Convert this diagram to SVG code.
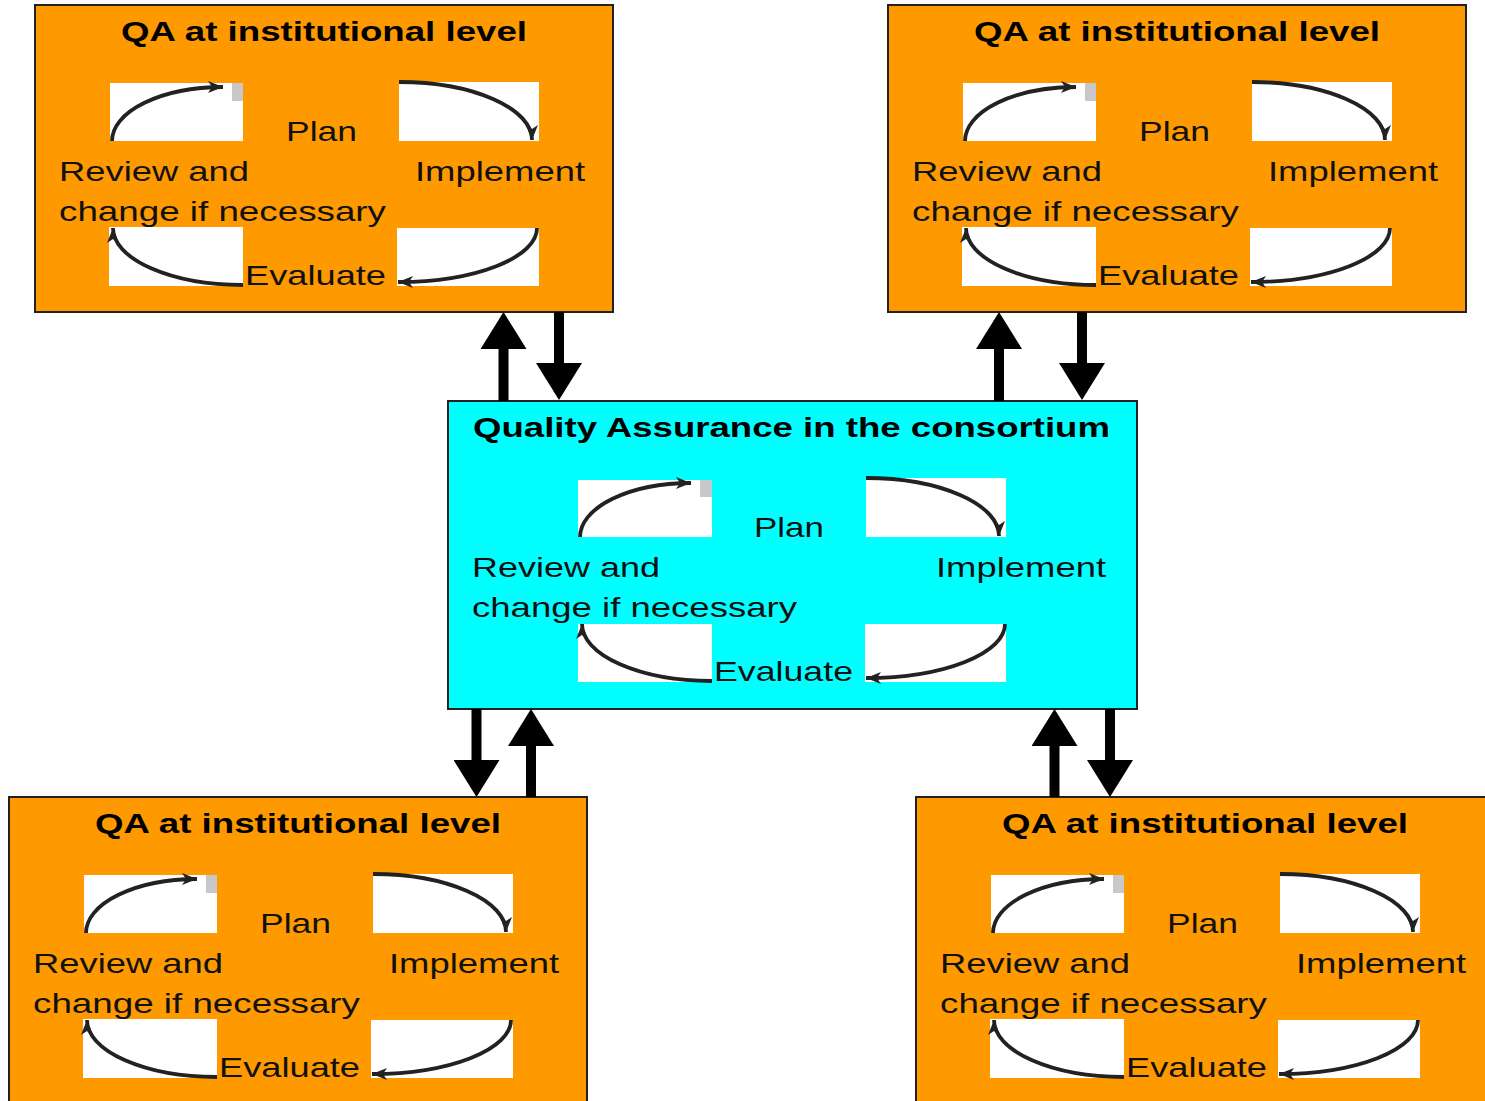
<svg xmlns="http://www.w3.org/2000/svg" width="1485" height="1101" viewBox="0 0 1485 1101">
<style>
.obox{fill:#FF9900;stroke:#222;stroke-width:2}
.cbox{fill:#00FFFF;stroke:#222;stroke-width:2}
.pic{fill:#FFFFFF}
.tab{fill:#C8C8CC}
.cyc{fill:none;stroke:#222;stroke-width:3.8;marker-end:url(#tiny)}
.title{font-family:"Liberation Sans",Arial,sans-serif;font-weight:bold;font-size:27px;fill:#000}
.lbl{font-family:"Liberation Sans",Arial,sans-serif;font-size:28px;fill:#111}
.big{stroke:#000;stroke-width:10;fill:none;marker-end:url(#head)}
</style>
<defs>
<marker id="tiny" markerUnits="userSpaceOnUse" markerWidth="16" markerHeight="14" viewBox="0 0 16 14" refX="15" refY="7" orient="auto">
<path d="M0,1 L15,7 L0,13 L4,7 Z" fill="#222"/>
</marker>
<marker id="head" markerUnits="userSpaceOnUse" markerWidth="37" markerHeight="46" viewBox="0 0 37 46" refX="0" refY="23" orient="auto">
<path d="M0,0 L37,23 L0,46 Z" fill="#000"/>
</marker>
</defs>

<g id="qa-top-left" transform="translate(35,5)">
<rect class="obox" x="0" y="0" width="578" height="307"/>
<text class="title" x="86" y="36" textLength="406" lengthAdjust="spacingAndGlyphs">QA at institutional level</text>
<rect class="pic" x="75" y="78" width="133" height="58"/>
<rect class="tab" x="197" y="78" width="11" height="18"/>
<rect class="pic" x="364" y="77" width="140" height="59"/>
<rect class="pic" x="74" y="222" width="134" height="59"/>
<rect class="pic" x="362" y="223" width="142" height="58"/>
<path class="cyc" d="M77,136 A111,54 0 0 1 188,82"/>
<path class="cyc" d="M364,77 A133,58 0 0 1 497,135"/>
<path class="cyc" d="M502,223 A139,54 0 0 1 363,277"/>
<path class="cyc" d="M208,280 A130,57 0 0 1 78,223"/>
<text class="lbl" x="251" y="136" textLength="71" lengthAdjust="spacingAndGlyphs">Plan</text>
<text class="lbl" x="24" y="176" textLength="190" lengthAdjust="spacingAndGlyphs">Review and</text>
<text class="lbl" x="380" y="176" textLength="170" lengthAdjust="spacingAndGlyphs">Implement</text>
<text class="lbl" x="24" y="216" textLength="327" lengthAdjust="spacingAndGlyphs">change if necessary</text>
<text class="lbl" x="210" y="280" textLength="141" lengthAdjust="spacingAndGlyphs">Evaluate</text>
</g>

<g id="qa-top-right" transform="translate(888,5)">
<rect class="obox" x="0" y="0" width="578" height="307"/>
<text class="title" x="86" y="36" textLength="406" lengthAdjust="spacingAndGlyphs">QA at institutional level</text>
<rect class="pic" x="75" y="78" width="133" height="58"/>
<rect class="tab" x="197" y="78" width="11" height="18"/>
<rect class="pic" x="364" y="77" width="140" height="59"/>
<rect class="pic" x="74" y="222" width="134" height="59"/>
<rect class="pic" x="362" y="223" width="142" height="58"/>
<path class="cyc" d="M77,136 A111,54 0 0 1 188,82"/>
<path class="cyc" d="M364,77 A133,58 0 0 1 497,135"/>
<path class="cyc" d="M502,223 A139,54 0 0 1 363,277"/>
<path class="cyc" d="M208,280 A130,57 0 0 1 78,223"/>
<text class="lbl" x="251" y="136" textLength="71" lengthAdjust="spacingAndGlyphs">Plan</text>
<text class="lbl" x="24" y="176" textLength="190" lengthAdjust="spacingAndGlyphs">Review and</text>
<text class="lbl" x="380" y="176" textLength="170" lengthAdjust="spacingAndGlyphs">Implement</text>
<text class="lbl" x="24" y="216" textLength="327" lengthAdjust="spacingAndGlyphs">change if necessary</text>
<text class="lbl" x="210" y="280" textLength="141" lengthAdjust="spacingAndGlyphs">Evaluate</text>
</g>

<g id="qa-consortium" transform="translate(448,401)">
<rect class="cbox" x="0" y="0" width="689" height="308"/>
<text class="title" x="25" y="36" textLength="637" lengthAdjust="spacingAndGlyphs">Quality Assurance in the consortium</text>
<rect class="pic" x="130" y="79" width="134" height="57"/>
<rect class="tab" x="252" y="79" width="12" height="17"/>
<rect class="pic" x="418" y="77" width="140" height="59"/>
<rect class="pic" x="130" y="223" width="134" height="58"/>
<rect class="pic" x="417" y="223" width="141" height="58"/>
<path class="cyc" d="M132,136 A111,54 0 0 1 243,82"/>
<path class="cyc" d="M418,77 A133,58 0 0 1 551,135"/>
<path class="cyc" d="M557,223 A139,54 0 0 1 418,277"/>
<path class="cyc" d="M264,280 A130,57 0 0 1 134,223"/>
<text class="lbl" x="306" y="136" textLength="70" lengthAdjust="spacingAndGlyphs">Plan</text>
<text class="lbl" x="24" y="176" textLength="188" lengthAdjust="spacingAndGlyphs">Review and</text>
<text class="lbl" x="488" y="176" textLength="170" lengthAdjust="spacingAndGlyphs">Implement</text>
<text class="lbl" x="24" y="216" textLength="325" lengthAdjust="spacingAndGlyphs">change if necessary</text>
<text class="lbl" x="266" y="280" textLength="139" lengthAdjust="spacingAndGlyphs">Evaluate</text>
</g>

<g id="qa-bottom-left" transform="translate(9,797)">
<rect class="obox" x="0" y="0" width="578" height="307"/>
<text class="title" x="86" y="36" textLength="406" lengthAdjust="spacingAndGlyphs">QA at institutional level</text>
<rect class="pic" x="75" y="78" width="133" height="58"/>
<rect class="tab" x="197" y="78" width="11" height="18"/>
<rect class="pic" x="364" y="77" width="140" height="59"/>
<rect class="pic" x="74" y="222" width="134" height="59"/>
<rect class="pic" x="362" y="223" width="142" height="58"/>
<path class="cyc" d="M77,136 A111,54 0 0 1 188,82"/>
<path class="cyc" d="M364,77 A133,58 0 0 1 497,135"/>
<path class="cyc" d="M502,223 A139,54 0 0 1 363,277"/>
<path class="cyc" d="M208,280 A130,57 0 0 1 78,223"/>
<text class="lbl" x="251" y="136" textLength="71" lengthAdjust="spacingAndGlyphs">Plan</text>
<text class="lbl" x="24" y="176" textLength="190" lengthAdjust="spacingAndGlyphs">Review and</text>
<text class="lbl" x="380" y="176" textLength="170" lengthAdjust="spacingAndGlyphs">Implement</text>
<text class="lbl" x="24" y="216" textLength="327" lengthAdjust="spacingAndGlyphs">change if necessary</text>
<text class="lbl" x="210" y="280" textLength="141" lengthAdjust="spacingAndGlyphs">Evaluate</text>
</g>

<g id="qa-bottom-right" transform="translate(916,797)">
<rect class="obox" x="0" y="0" width="578" height="307"/>
<text class="title" x="86" y="36" textLength="406" lengthAdjust="spacingAndGlyphs">QA at institutional level</text>
<rect class="pic" x="75" y="78" width="133" height="58"/>
<rect class="tab" x="197" y="78" width="11" height="18"/>
<rect class="pic" x="364" y="77" width="140" height="59"/>
<rect class="pic" x="74" y="222" width="134" height="59"/>
<rect class="pic" x="362" y="223" width="142" height="58"/>
<path class="cyc" d="M77,136 A111,54 0 0 1 188,82"/>
<path class="cyc" d="M364,77 A133,58 0 0 1 497,135"/>
<path class="cyc" d="M502,223 A139,54 0 0 1 363,277"/>
<path class="cyc" d="M208,280 A130,57 0 0 1 78,223"/>
<text class="lbl" x="251" y="136" textLength="71" lengthAdjust="spacingAndGlyphs">Plan</text>
<text class="lbl" x="24" y="176" textLength="190" lengthAdjust="spacingAndGlyphs">Review and</text>
<text class="lbl" x="380" y="176" textLength="170" lengthAdjust="spacingAndGlyphs">Implement</text>
<text class="lbl" x="24" y="216" textLength="327" lengthAdjust="spacingAndGlyphs">change if necessary</text>
<text class="lbl" x="210" y="280" textLength="141" lengthAdjust="spacingAndGlyphs">Evaluate</text>
</g>

<g id="connectors">
<line class="big" x1="503.5" y1="401" x2="503.5" y2="349"/>
<line class="big" x1="559" y1="312" x2="559" y2="363"/>
<line class="big" x1="999" y1="401" x2="999" y2="349"/>
<line class="big" x1="1082" y1="312" x2="1082" y2="363"/>
<line class="big" x1="476.5" y1="709" x2="476.5" y2="760"/>
<line class="big" x1="531" y1="797" x2="531" y2="746"/>
<line class="big" x1="1054.5" y1="797" x2="1054.5" y2="746"/>
<line class="big" x1="1110" y1="709" x2="1110" y2="760"/>
</g>
</svg>
